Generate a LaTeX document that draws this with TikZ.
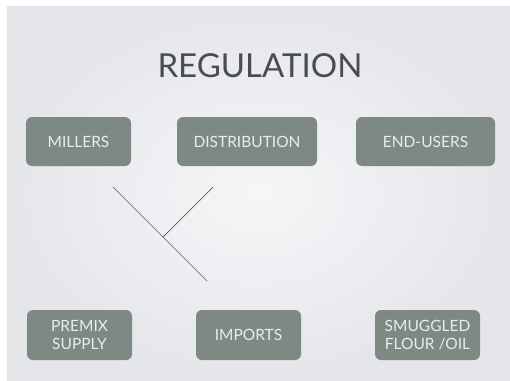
\documentclass[tikz,border=0pt]{standalone}
\usepackage{fontspec}
\setmainfont{Lato}
\definecolor{slidebg}{HTML}{E4E6EA}
\definecolor{boxfill}{HTML}{7F8983}
\definecolor{boxtext}{HTML}{E9EDEA}
\definecolor{titlegray}{HTML}{4A4D4F}
\definecolor{linegray}{HTML}{5A5C5E}
\tikzset{
  actor/.style={fill=boxfill, rounded corners=6pt, text=boxtext, align=center,
    font=\fontsize{15.5}{18}\selectfont, inner sep=0pt},
  link/.style={draw=linegray, line width=0.7pt}
}
\begin{document}
\begin{tikzpicture}[x=1pt,y=-1pt]
      \useasboundingbox (0,0) rectangle (510,380);
      % slide background
      \fill[white] (0,0) rectangle (510,380);
      \shade[inner color=slidebg!35!white, outer color=slidebg] (7,6) rectangle (510,380);
      % title
      \node[text=titlegray, font=\fontsize{33}{36}\selectfont] (title) at (260,66) {REGULATION};
      % top row
      \node[actor, minimum width=105pt, minimum height=49pt] (millers) at (78.5,141.5) {MILLERS};
      \node[actor, minimum width=140pt, minimum height=49pt] (distribution) at (247,141.5) {DISTRIBUTION};
      \node[actor, minimum width=139pt, minimum height=49pt] (endusers) at (425.5,141.5) {END-USERS};
      % bottom row
      \node[actor, minimum width=105pt, minimum height=50pt] (premix) at (79.5,335) {PREMIX\\SUPPLY};
      \node[actor, minimum width=105pt, minimum height=50pt] (imports) at (248.5,335) {IMPORTS};
      \node[actor, minimum width=105pt, minimum height=50pt] (smuggled) at (427.5,335) {SMUGGLED\\FLOUR /OIL};
      % lines
      \coordinate (cA) at (113,187);
      \coordinate (cB) at (207,281);
      \coordinate (cC) at (213,187);
      \coordinate (cD) at (163,237);
      \draw[link] (cA) -- (cB);
      \draw[link] (cC) -- (cD);
\end{tikzpicture}
\end{document}
